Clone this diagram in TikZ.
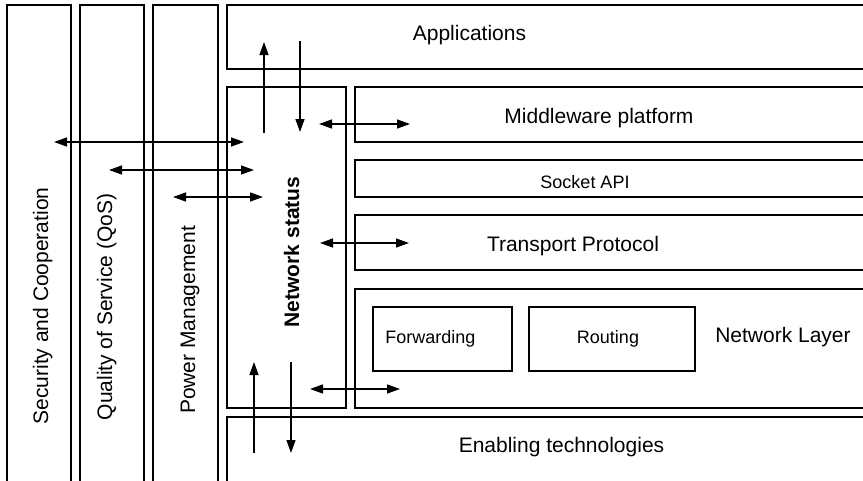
\documentclass[tikz,border=0pt]{standalone}
\usepackage{fontspec}
\setmainfont{Liberation Sans}
\usetikzlibrary{arrows.meta}
\begin{document}
\begin{tikzpicture}[x=1pt,y=-1pt,
  layer/.style={draw, line width=1.8pt, anchor=north west, inner sep=0pt, outer sep=0pt},
  subbox/.style={draw, line width=1.2pt, anchor=north west, inner sep=0pt, outer sep=0pt},
  lbl/.style={font=\fontsize{21}{25}\selectfont, inner sep=0pt, anchor=base},
  smalllbl/.style={font=\fontsize{18}{22}\selectfont, inner sep=0pt, anchor=base},
  tip/.tip={Triangle[length=13pt,width=9pt]},
  flow/.style={line width=1.4pt, -tip},
  dflow/.style={line width=1.4pt, tip-tip}]
\useasboundingbox (0,0) rectangle (863,480);
\clip (0,0) rectangle (863,480);

% vertical cross-layer planes (run past the lower edge)
\node[layer, minimum width=64, minimum height=500] (sec) at (7,5) {};
\node[layer, minimum width=64, minimum height=500] (qos) at (80,5) {};
\node[layer, minimum width=65, minimum height=500] (pwr) at (153,5) {};

% protocol stack layers (run past the right edge)
\node[layer, minimum width=660, minimum height=64] (app) at (227,5) {};
\node[layer, minimum width=119, minimum height=321] (nst) at (227,87) {};
\node[layer, minimum width=530, minimum height=55] (mid) at (355,87) {};
\node[layer, minimum width=530, minimum height=37] (sock) at (355,160) {};
\node[layer, minimum width=530, minimum height=55] (trans) at (355,215) {};
\node[layer, minimum width=530, minimum height=119] (netl) at (355,289) {};
\node[layer, minimum width=660, minimum height=80] (enab) at (227,417) {};

% inner blocks of the network layer
\node[subbox, minimum width=139, minimum height=64] (fwd) at (373,307) {};
\node[subbox, minimum width=166, minimum height=64] (rout) at (529,307) {};

% labels
\node[lbl] (tapp) at (469.5,40) {Applications};
\node[lbl] (tmid) at (599,123) {Middleware platform};
\node[smalllbl] (tsock) at (585,188) {Socket API};
\node[lbl] (ttrans) at (573,251) {Transport Protocol};
\node[lbl] (tnetl) at (783,342) {Network Layer};
\node[lbl] (tenab) at (561.5,452) {Enabling technologies};
\node[smalllbl] (tfwd) at (430.5,343) {Forwarding};
\node[smalllbl] (trout) at (608,343) {Routing};
\node[lbl, rotate=90] (tsec) at (48,306) {Security and Cooperation};
\node[lbl, rotate=90] (tqos) at (112,307) {Quality of Service (QoS)};
\node[lbl, rotate=90] (tpwr) at (195,320) {Power Management};
\node[lbl, rotate=90, font=\fontsize{21}{25}\selectfont\bfseries] (tnst) at (299,252) {Network status};

% arrow end points
\coordinate (upA0) at (264,133);  \coordinate (upA1) at (264,42);
\coordinate (dnA0) at (300,41);   \coordinate (dnA1) at (300,132);
\coordinate (midL) at (319,124);  \coordinate (midR) at (410,124);
\coordinate (secL) at (54,142);   \coordinate (secR) at (244,142);
\coordinate (qosL) at (109,170);  \coordinate (qosR) at (254,170);
\coordinate (pwrL) at (173,197);  \coordinate (pwrR) at (263,197);
\coordinate (trL)  at (320,243);  \coordinate (trR)  at (409,243);
\coordinate (nlL)  at (310,389);  \coordinate (nlR)  at (400,389);
\coordinate (upB0) at (254,453);  \coordinate (upB1) at (254,362);
\coordinate (dnB0) at (291,362);  \coordinate (dnB1) at (291,453);

% status exchange arrows
\draw[flow]  (upA0) -- (upA1);
\draw[flow]  (dnA0) -- (dnA1);
\draw[dflow] (midL) -- (midR);
\draw[dflow] (secL) -- (secR);
\draw[dflow] (qosL) -- (qosR);
\draw[dflow] (pwrL) -- (pwrR);
\draw[dflow] (trL) -- (trR);
\draw[dflow] (nlL) -- (nlR);
\draw[flow]  (upB0) -- (upB1);
\draw[flow]  (dnB0) -- (dnB1);
\end{tikzpicture}
\end{document}
